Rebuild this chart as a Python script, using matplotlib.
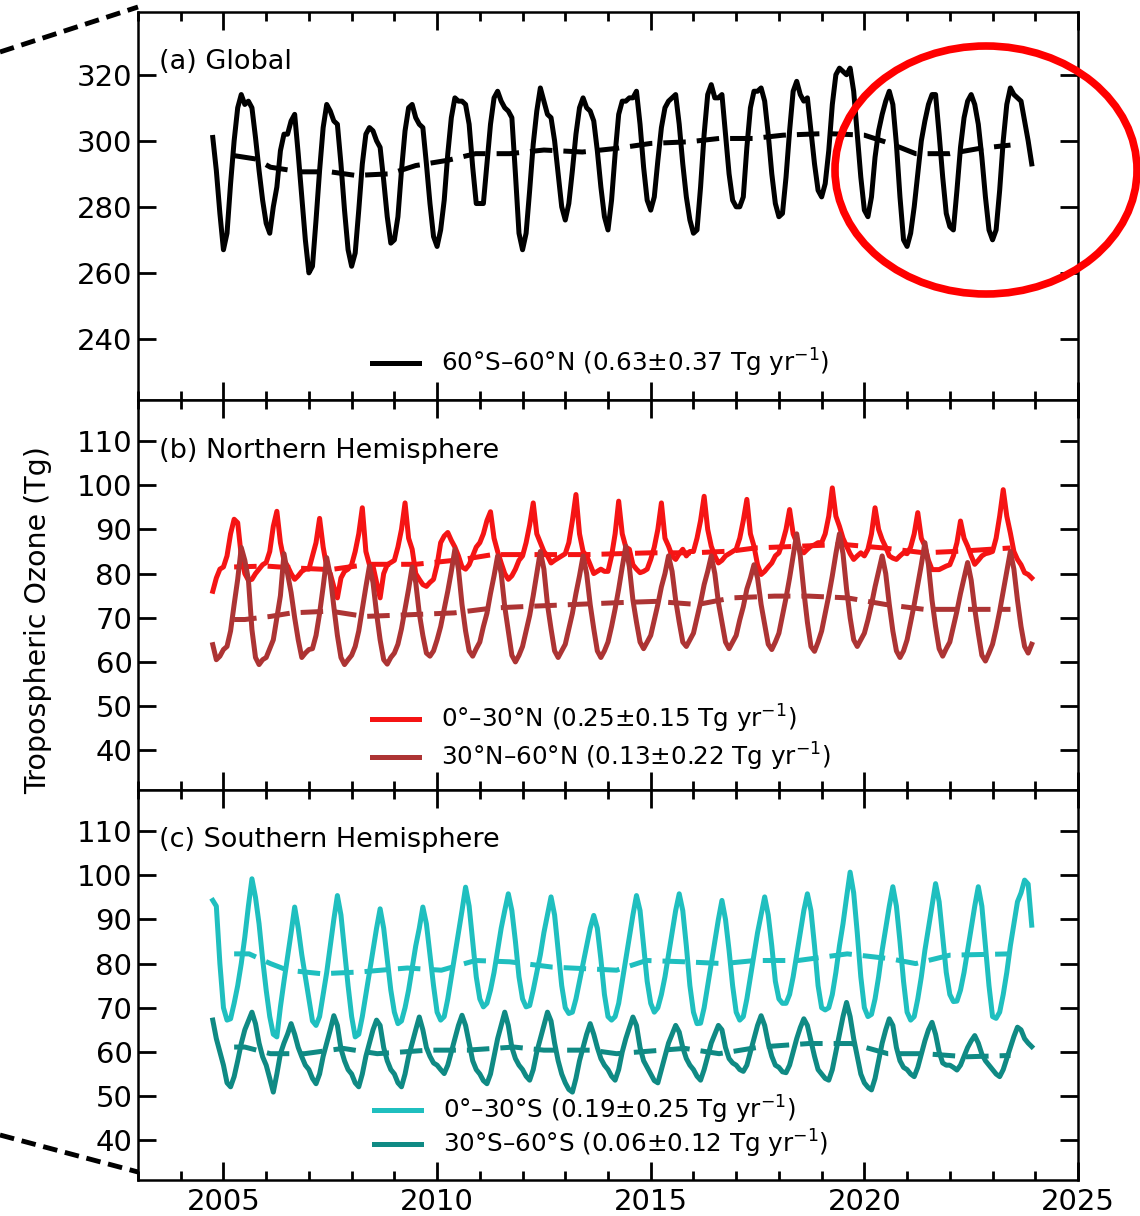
import numpy as np
import matplotlib
matplotlib.use("Agg")
import matplotlib.pyplot as plt
from matplotlib.patches import Ellipse
from matplotlib.lines import Line2D

# ---------------- data (monthly, Oct 2004 - Dec 2023) ----------------
start_year = 2004.75
n_months = 231

glob = [
 301, 291, 278,
 267, 272, 287, 300, 310, 314, 311, 312, 310, 301, 291, 282,
 275, 272, 280, 286, 297, 302, 302, 306, 308, 296, 283, 270,
 260, 262, 276, 291, 304, 311, 309, 306, 305, 293, 279, 267,
 262, 266, 279, 293, 302, 304, 303, 300, 298, 288, 277, 269,
 270, 277, 291, 303, 310, 311, 307, 305, 304, 293, 281, 271,
 268, 273, 282, 296, 307, 313, 312, 312, 311, 305, 292, 281,
 281, 281, 293, 305, 313, 315, 312, 310, 309, 307, 290, 272,
 267, 272, 285, 299, 309, 316, 312, 308, 307, 300, 290, 280,
 276, 281, 291, 302, 310, 313, 310, 309, 306, 297, 286, 277,
 273, 282, 296, 308, 312, 312, 313, 313, 315, 305, 292, 282,
 279, 283, 294, 304, 310, 312, 313, 314, 305, 293, 283, 276,
 272, 273, 286, 302, 314, 317, 313, 313, 314, 302, 290, 282,
 280, 280, 283, 298, 310, 315, 315, 316, 312, 302, 290, 281,
 277, 278, 289, 303, 315, 318, 314, 312, 313, 303, 293, 285,
 283, 287, 297, 311, 320, 322, 321, 320, 322, 315, 302, 289,
 279, 277, 283, 295, 303, 308, 312, 315, 311, 299, 283, 270,
 268, 272, 280, 290, 300, 306, 311, 314, 314, 302, 289, 278,
 274, 273, 285, 298, 307, 312, 314, 311, 305, 295, 283, 273,
 270, 273, 285, 300, 311, 316, 314, 313, 312, 306, 300, 293,
]

nh_0_30 = [
 76, 79, 81,
 81.5, 84, 89, 92.3, 91.5, 84, 80, 78.5, 78.7, 80, 81, 82,
 82.5, 85, 90.7, 94.1, 87, 83, 81.7, 80, 78.7, 79.5, 80.5, 81,
 81, 84, 87, 92.5, 86, 81.5, 80, 77, 74.5, 79, 80.5, 81,
 82, 85, 89, 94.9, 85, 82, 81.7, 78, 74.5, 80, 82, 82.5,
 83, 86, 90, 96, 88, 85.5, 80, 78.7, 77.5, 77.1, 78, 78.7,
 82, 87, 88.5, 89.3, 87.5, 86, 84, 81.5, 81, 82, 84, 86,
 87, 89, 92, 94, 88, 85, 82.4, 80, 78.7, 79.5, 81, 83,
 84, 87, 91, 96, 89, 87, 85, 84, 82.4, 83, 83.5, 84,
 84.5, 87, 92, 97.9, 89, 85, 84, 82, 80, 80.5, 81, 80.5,
 80.5, 84, 89, 96.4, 89, 86, 85.5, 82, 81, 80.2, 80.5, 81,
 83.2, 86, 90, 96, 88, 86.2, 84, 83.2, 84.5, 85.5, 84, 85,
 85, 88, 92, 97.5, 90, 86.2, 84, 82.4, 83, 84, 84.5, 85,
 85.5, 88, 92, 96.8, 89, 86.2, 82, 79.8, 80.5, 81.5, 82.4, 84,
 84.7, 87, 90, 94.5, 89, 87, 85.5, 84.7, 85.5, 86.2, 86.5, 87,
 87, 89, 93, 99.4, 93, 90.7, 88, 86.2, 84.5, 83.2, 84, 84.7,
 84, 85.5, 89, 94.9, 90, 87.7, 86, 84, 83.5, 83.2, 84, 84.7,
 84.5, 86, 89, 93.8, 88, 86.2, 83, 80.9, 80.9, 80.9, 81.3, 81.7,
 82, 84, 87, 91.9, 88, 86.2, 84, 82.1, 83, 84, 84.5, 84.7,
 85, 88, 93, 99, 93, 89.2, 85, 83.2, 82, 80.2, 79.8, 79,
]

nh_30_60 = [
 63.9, 60.5, 61.3,
 62.8, 63.5, 67, 73, 78.7, 85.9, 83, 78.7, 67.3, 61, 59.4, 60.5,
 61, 63, 65, 70, 75, 84.5, 80, 75.7, 70, 65, 61, 62,
 62.8, 63, 66, 71, 77, 83.6, 79.5, 72.5, 66, 61, 59.4, 60.5,
 61.5, 63.5, 67, 72, 77, 81.7, 78, 71, 65, 60.5, 59.5, 61,
 62, 64, 67.5, 72, 76.5, 81.5, 78, 71, 66, 62, 61.3, 62.5,
 65, 68, 72, 76, 80.5, 85.5, 81, 73, 67, 62.5, 61.3, 63,
 64.5, 68, 71, 75.5, 79.5, 84, 80, 72.5, 67, 61.5, 60, 61.5,
 63.5, 67, 70.5, 75, 80, 85, 81, 73, 67.5, 62.5, 61, 62.5,
 64, 67.5, 71, 75.5, 79.5, 84, 80, 73, 67.5, 62.5, 61, 62.5,
 64.5, 68, 72, 76.5, 81.5, 86.2, 81.5, 74, 69, 64.5, 63, 64.5,
 66, 69.5, 73, 77, 80, 84, 80.5, 74, 69, 64.5, 63.5, 65,
 66.5, 70, 73.5, 77.5, 80.5, 84, 80, 73.5, 69, 64.5, 63, 64.5,
 66, 69.5, 72.5, 76.5, 79, 82, 79, 73, 68.5, 64, 62.8, 64.5,
 66.5, 70.5, 74.5, 79, 84, 89, 84, 76, 69, 63.5, 62.4, 64.5,
 67, 71, 75, 79.5, 84.5, 89, 84.5, 76.5, 70, 65, 63.5, 65,
 66.5, 69.5, 73, 77, 80.5, 84, 80, 73, 67, 62.5, 61, 62.5,
 65, 69, 73, 77.5, 82, 87, 82, 74, 68, 63, 61.3, 63,
 64.5, 68, 71.5, 75.5, 79, 82.5, 78.5, 72, 66.5, 61.5, 60.2, 62,
 64, 67.5, 71.5, 76, 80.5, 85, 81, 74, 68, 63.5, 62, 64,
]

sh_0_30 = [
 94.3, 93, 80,
 70, 67.2, 67.5, 71, 75, 80, 86, 93, 99.2, 95, 89, 81,
 74, 68, 64, 63.4, 70.2, 76, 81.5, 87, 92.8, 88, 82, 77,
 72, 67, 66, 68, 73, 78, 84, 90, 95.4, 91, 83, 75,
 68, 63.4, 64, 68, 73, 78, 83, 88, 92.4, 88, 81, 74,
 69, 66.4, 67, 70, 74, 79, 84, 88, 92.8, 89, 82, 75,
 69, 67.2, 68, 72, 77, 82, 87, 92, 97.3, 93, 85, 77,
 72, 70.2, 71, 74, 78, 83, 88, 92, 95.8, 92, 85, 77,
 72, 70.2, 70.5, 74, 78, 82, 87, 91, 95.1, 91, 83, 75,
 70, 68.7, 69, 72, 76, 80, 84, 88, 90.9, 88, 81, 73,
 68, 67.2, 68, 71, 76, 81, 86, 91, 95.4, 92, 84, 76,
 71, 69, 70, 73, 77, 82, 87, 92, 95.8, 92, 84, 75,
 69, 66.4, 66.5, 70, 75, 80, 85, 90, 94.3, 90, 83, 75,
 69, 67.2, 68, 72, 77, 82, 87, 91, 95.1, 91, 84, 76,
 72, 71, 71, 73, 77, 82, 87, 92, 95.8, 92, 84, 75,
 70, 69.5, 70, 73, 78, 84, 89, 95, 100.7, 96, 87, 77,
 70, 68, 68.5, 72, 77, 83, 88, 93, 97.4, 93, 85, 76,
 69, 67.2, 68, 72, 77, 83, 88, 93, 98.1, 94, 86, 78,
 73, 71.4, 71.5, 74, 78, 83, 88, 93, 97.4, 93, 84, 75,
 68, 67.6, 69, 73, 78, 84, 89, 94, 96, 98.9, 98, 88.7,
]

sh_30_60 = [
 67.2, 63, 60,
 57, 53, 52.1, 54.4, 58, 61.9, 65, 67, 69, 66.4, 62, 58.9,
 57, 54, 50.9, 55, 59.6, 62, 64, 66.4, 64, 61, 58.9, 57,
 56, 54, 52.8, 55, 59, 62, 65, 68.2, 66, 60.7, 58, 56,
 55, 53, 52.1, 55, 59, 62, 65, 67.2, 66, 61, 58, 56,
 55, 53, 52.1, 55, 59, 62, 65, 67.9, 65, 61, 59, 57.5,
 57, 56, 55.1, 57, 60, 63, 66, 68.3, 66, 62, 58, 56,
 55, 53.5, 52.8, 55, 59, 63, 66, 69, 66, 61, 58.5, 57,
 56, 54.5, 53.6, 56, 60, 63, 66, 69, 67, 62, 58, 55,
 53, 51.5, 50.9, 54, 58, 61, 64, 66.4, 64, 61, 58.5, 57,
 56, 54.5, 53.6, 56, 60, 63, 65.5, 67.9, 66, 61, 58, 56.5,
 55, 53.5, 53, 56, 59, 62, 64, 66, 64.5, 61, 58.5, 57,
 56, 54.5, 53.6, 56, 59, 62, 64, 66, 65, 61, 58.5, 57.5,
 57, 56, 55.6, 57, 60, 63, 66, 68.2, 66, 62, 59, 57,
 56.5, 55.5, 55.3, 57, 60, 63, 65.5, 67.5, 66, 62.5, 59, 56,
 55, 54, 53.6, 56, 60, 64, 68, 71.2, 68, 63, 59, 55,
 53, 52, 51.4, 54, 58, 62, 65, 67.5, 66, 61, 58, 56.5,
 56, 55, 54.4, 56.5, 59.5, 62.5, 65, 66.7, 64, 60, 57.5, 57,
 57, 56.5, 55.9, 57, 59, 61, 62.5, 63.7, 62, 59.5, 58, 57,
 56, 55, 54.4, 56, 58.5, 61, 63.5, 65.6, 65, 63, 62, 61.2,
]

# deseasonalised (dashed) curves
glob_tr_t = [2005.25, 2005.75, 2006.1, 2006.8, 2007.5, 2008.1, 2008.9, 2009.5, 2010.25,
             2010.9, 2011.7, 2012.5, 2013.4, 2014.2, 2015.0, 2015.9, 2016.6, 2017.4,
             2018.1, 2019.1, 2020.0, 2020.6, 2021.2, 2022.0, 2022.7, 2023.42]
glob_tr_v = [295.5, 294.5, 292.0, 290.6, 290.6, 289.5, 290.0, 292.5, 294.1,
             296.1, 296.1, 297.2, 296.6, 297.7, 299.2, 299.7, 300.7, 300.7,
             301.7, 302.2, 301.7, 299.2, 296.1, 296.1, 297.7, 298.7]

nh1_tr_t = [2005.25, 2006.0, 2006.6, 2007.5, 2008.4, 2009.5, 2010.6, 2011.3, 2013.5, 2015.0,
            2016.0, 2016.9, 2017.45, 2018.5, 2019.5, 2020.45, 2021.4, 2022.3, 2023.42]
nh1_tr_v = [81.5, 81.7, 81.3, 80.9, 82.1, 82.1, 83.2, 84.3, 84.3, 84.7,
            84.7, 85.1, 85.8, 86.2, 86.6, 85.8, 84.7, 85.1, 85.8]

nh2_tr_t = [2005.25, 2005.5, 2006.1, 2006.6, 2007.5, 2008.3, 2009.4, 2010.4, 2011.3, 2012.2,
            2013.2, 2014.2, 2015.1, 2016.1, 2016.9, 2017.9, 2018.7, 2019.6, 2020.5, 2021.4,
            2022.4, 2023.42]
nh2_tr_v = [69.6, 69.6, 70.3, 71.1, 71.5, 70.3, 70.7, 71.1, 72.2, 72.6,
            73.0, 73.4, 73.7, 73.0, 74.5, 74.9, 74.9, 74.5, 73.0, 71.9,
            71.9, 71.9]

sh1_tr_t = [2005.25, 2005.6, 2006.1, 2006.5, 2007.3, 2008.2, 2009.3, 2010.1, 2010.9, 2011.7,
            2012.7, 2014.2, 2014.9, 2015.8, 2016.7, 2017.45, 2018.45, 2019.6, 2020.6, 2021.2,
            2022.0, 2023.42]
sh1_tr_v = [82.2, 82.2, 80.0, 78.5, 77.7, 78.1, 79.0, 78.5, 80.7, 80.4,
            79.2, 78.5, 80.7, 80.4, 80.0, 80.7, 80.7, 82.2, 81.1, 80.0,
            81.9, 82.2]

sh2_tr_t = [2005.25, 2005.5, 2006.1, 2006.9, 2007.8, 2008.6, 2009.8, 2010.7, 2011.8, 2012.5,
            2013.6, 2014.2, 2015.8, 2016.6, 2017.55, 2018.7, 2019.7, 2020.55, 2021.4, 2022.4,
            2023.42]
sh2_tr_v = [61.1, 61.1, 59.6, 59.6, 60.8, 59.6, 60.4, 60.4, 61.1, 60.4,
            60.4, 59.6, 60.8, 59.6, 61.1, 61.9, 61.9, 59.6, 59.6, 58.9,
            59.2]

labels_a = ["60°S–60°N (0.63±0.37 Tg yr$^{-1}$)"]
labels_b = ["0°–30°N (0.25±0.15 Tg yr$^{-1}$)", "30°N–60°N (0.13±0.22 Tg yr$^{-1}$)"]
labels_c = ["0°–30°S (0.19±0.25 Tg yr$^{-1}$)", "30°S–60°S (0.06±0.12 Tg yr$^{-1}$)"]
titles = ["(a) Global", "(b) Northern Hemisphere", "(c) Southern Hemisphere"]

yticks_a = [240, 260, 280, 300, 320]
yticks_bc = [40, 50, 60, 70, 80, 90, 100, 110]
xticks = [2005, 2010, 2015, 2020, 2025]

# ---------------- styling ----------------
plt.rcParams['font.family'] = ['DejaVu Sans']
C_BLACK = "black"
C_RED = "#f51414"
C_DRED = "#ad3434"
C_CYAN = "#1fbfbf"
C_TEAL = "#0f8a84"
LW = 3.6
DASH = (0, (4.5, 2.2))

t = start_year + np.arange(n_months) / 12.0

fig = plt.figure(figsize=(11.4, 12.16), dpi=100)
L, W = 138 / 1140, 940 / 1140
ax_a = fig.add_axes([L, 1 - 400 / 1216, W, 388 / 1216])
ax_b = fig.add_axes([L, 1 - 790 / 1216, W, 390 / 1216])
ax_c = fig.add_axes([L, 1 - 1180 / 1216, W, 390 / 1216])

ax_a.plot(t, glob, color=C_BLACK, lw=LW, label=labels_a[0])
ax_a.plot(glob_tr_t, glob_tr_v, color=C_BLACK, lw=LW, linestyle=DASH)

ax_b.plot(t, nh_0_30, color=C_RED, lw=LW, label=labels_b[0])
ax_b.plot(nh1_tr_t, nh1_tr_v, color=C_RED, lw=LW, linestyle=DASH)
ax_b.plot(t, nh_30_60, color=C_DRED, lw=LW, label=labels_b[1])
ax_b.plot(nh2_tr_t, nh2_tr_v, color=C_DRED, lw=LW, linestyle=DASH)

ax_c.plot(t, sh_0_30, color=C_CYAN, lw=LW, label=labels_c[0])
ax_c.plot(sh1_tr_t, sh1_tr_v, color=C_CYAN, lw=LW, linestyle=DASH)
ax_c.plot(t, sh_30_60, color=C_TEAL, lw=LW, label=labels_c[1])
ax_c.plot(sh2_tr_t, sh2_tr_v, color=C_TEAL, lw=LW, linestyle=DASH)

ax_a.set_ylim(221.5, 339)
ax_b.set_ylim(31, 119.3)
ax_c.set_ylim(31, 119.3)
ax_a.set_yticks(yticks_a)
ax_b.set_yticks(yticks_bc)
ax_c.set_yticks(yticks_bc)

for ax in (ax_a, ax_b, ax_c):
    ax.set_xlim(2003, 2025)
    ax.set_xticks(xticks)
    ax.set_xticks(np.arange(2003, 2026, 1), minor=True)
    ax.tick_params(axis='both', which='major', direction='in', length=13, width=2,
                   top=True, right=True, labelsize=21, pad=4)
    ax.tick_params(axis='x', which='minor', direction='in', length=6.5, width=2,
                   top=True, bottom=True)
    ax.tick_params(axis='y', which='minor', left=False, right=False)
    for s in ax.spines.values():
        s.set_linewidth(1.8)

ax_a.tick_params(axis='x', labelbottom=False)
ax_b.tick_params(axis='x', labelbottom=False)
ax_c.tick_params(axis='x', pad=6)

for ax, ttl, yy in ((ax_a, titles[0], 0.871), (ax_b, titles[1], 0.869), (ax_c, titles[2], 0.872)):
    ax.text(0.022, yy, ttl, transform=ax.transAxes, fontsize=19.5, va='center', ha='left')

leg_kw = dict(frameon=False, fontsize=17.7, handlelength=1.9, handletextpad=0.9,
              borderpad=0, borderaxespad=0, loc='center left')
ax_a.legend(bbox_to_anchor=((372 - 138) / 940, (400 - 363) / 388), **leg_kw)
ax_b.legend(bbox_to_anchor=((372 - 138) / 940, (790 - 738) / 390), labelspacing=0.25, **leg_kw)
ax_c.legend(bbox_to_anchor=((374 - 138) / 940, (1180 - 1127) / 390), labelspacing=0.1, **leg_kw)

fig.text(38 / 1140, 1 - 620 / 1216, "Tropospheric Ozone (Tg)", rotation=90,
         fontsize=20.5, va='center', ha='center')

# zoom-indicator dashed lines and highlight ellipse
fig.add_artist(Line2D([0 / 1140, 138 / 1140], [1 - 52 / 1216, 1 - 7 / 1216],
                      transform=fig.transFigure, color='black', lw=3.5,
                      linestyle=(0, (3, 1.6))))
fig.add_artist(Line2D([0 / 1140, 138 / 1140], [1 - 1135 / 1216, 1 - 1172 / 1216],
                      transform=fig.transFigure, color='black', lw=3.5,
                      linestyle=(0, (3, 1.6))))
fig.add_artist(Ellipse((986 / 1140, 1 - 170 / 1216), 302 / 1140, 248 / 1216,
                       transform=fig.transFigure, fill=False, edgecolor='#ff0000',
                       lw=5.5, clip_on=False))

fig.savefig("out.png", dpi=100)
